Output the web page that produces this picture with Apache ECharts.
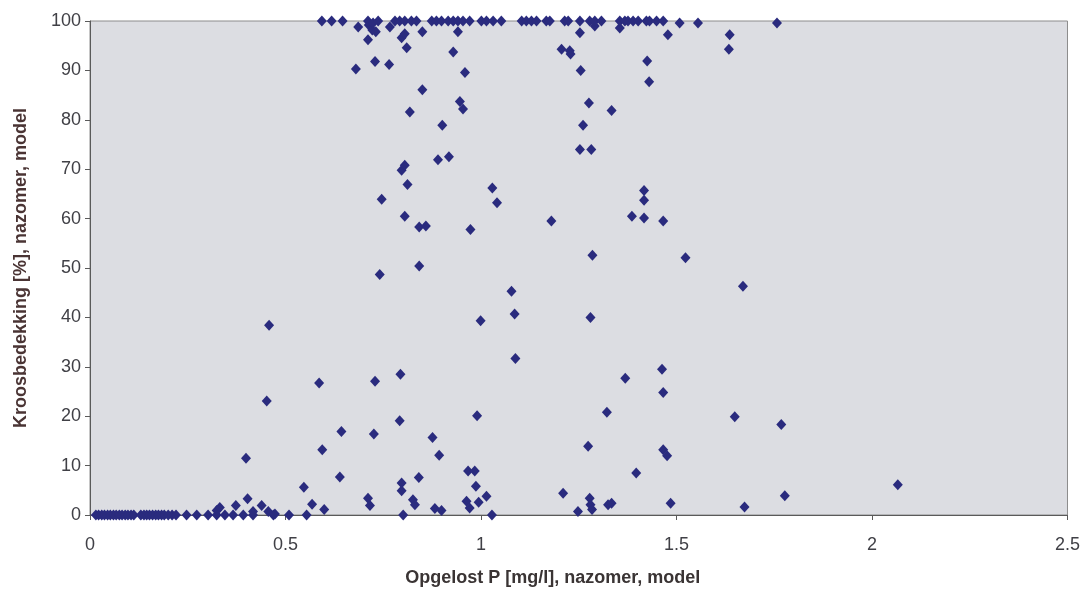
<!DOCTYPE html>
<html>
<head>
<meta charset="utf-8">
<script src="https://cdn.jsdelivr.net/npm/echarts@6/dist/echarts.min.js"></script>
<style>
  html, body { margin: 0; padding: 0; background: #ffffff; }
  #chart { width: 1083px; height: 592px; }
</style>
</head>
<body>
<div id="chart"></div>
<script>
// Opgelost P (mg/l) vs. kroosbedekking (%), nazomer, model runs

// Near-zero coverage, low P
const lowX = [0.015, 0.022, 0.03, 0.037, 0.045, 0.052, 0.06, 0.067, 0.075, 0.082, 0.09, 0.097, 0.105, 0.112,
  0.13, 0.138, 0.145, 0.152, 0.16, 0.168, 0.175, 0.183, 0.19, 0.2, 0.21, 0.22,
  0.247, 0.273, 0.302, 0.324, 0.345, 0.366, 0.392, 0.417, 0.469, 0.509, 0.554, 0.801, 1.028,
  0.324, 0.332, 0.373, 0.403, 0.439, 0.417, 0.456, 0.473, 0.399, 0.452, 0.458];
const lowY = [0, 0, 0, 0, 0, 0, 0, 0, 0, 0, 0, 0, 0, 0,
  0, 0, 0, 0, 0, 0, 0, 0, 0, 0, 0, 0,
  0, 0, 0, 0, 0, 0, 0, 0, 0, 0, 0, 0, 0,
  0.9, 1.5, 1.9, 3.3, 1.9, 0.7, 0.7, 0.2, 11.5, 23.1, 38.4];

// Scattered coverage, mid P
const midX = [0.547, 0.568, 0.599, 0.594, 0.586, 0.643, 0.639,
  0.711, 0.716, 0.726, 0.729, 0.741, 0.746,
  0.792, 0.794, 0.797, 0.797, 0.812, 0.805, 0.826, 0.831, 0.841, 0.842, 0.859, 0.842,
  0.876, 0.893, 0.882, 0.899,
  0.963, 0.971, 0.967, 0.984, 0.987, 0.994, 0.990, 0.999, 0.973, 1.014,
  1.029, 1.041, 1.078, 1.086, 1.088,
  1.180, 1.210, 1.248, 1.278, 1.280, 1.284, 1.274, 1.280, 1.285,
  1.322, 1.325, 1.334, 1.369, 1.397, 1.386, 1.417, 1.417, 1.417, 1.466,
  1.463, 1.466, 1.466, 1.476, 1.485, 1.523,
  1.649, 1.670, 1.674, 1.768, 1.777, 2.066];
const midY = [5.6, 2.2, 1.1, 13.2, 26.7, 16.9, 7.7,
  3.4, 1.9, 16.4, 27.1, 48.7, 63.9,
  19.1, 28.5, 6.5, 4.9, 66.9, 60.5, 3.1, 2.1, 7.6, 58.3, 58.5, 50.4,
  15.7, 12.1, 1.3, 0.9,
  2.8, 1.4, 8.9, 8.9, 5.8, 2.6, 20.1, 39.3, 57.8, 3.8,
  66.2, 63.2, 45.3, 40.7, 31.7,
  59.5, 4.4, 0.7, 3.4, 2.1, 1.1, 13.9, 40.0, 52.6,
  20.8, 2.1, 2.4, 27.7, 8.5, 60.5, 60.1, 65.7, 63.7, 59.5,
  29.5, 24.8, 13.2, 12.0, 2.4, 52.1,
  19.9, 46.3, 1.6, 18.3, 3.9, 6.1];

// High coverage below the 100 % row
const highX = [0.680, 0.711, 0.729, 0.765, 0.797, 0.805, 0.810, 0.850, 0.850, 0.818, 0.901, 0.890, 0.918,
  0.797, 0.805, 0.929, 0.941, 0.959, 0.946, 0.954,
  1.206, 1.227, 1.229, 1.253, 1.255, 1.276, 1.261, 1.253, 1.282, 1.334, 1.425, 1.430, 1.478, 1.636, 1.634,
  0.713, 0.722, 0.731, 1.291, 1.355];
const highY = [90.3, 96.2, 91.8, 91.2, 96.6, 97.4, 94.6, 97.8, 86.1, 81.6, 78.9, 71.9, 72.5,
  69.8, 70.8, 93.7, 97.8, 89.6, 83.7, 82.2,
  94.3, 94.0, 93.3, 97.6, 90.0, 83.4, 78.9, 74.0, 74.0, 81.9, 91.9, 87.7, 97.2, 97.2, 94.3,
  99.2, 98.2, 97.8, 99.0, 98.6];

// Full coverage row
const topX = [0.593, 0.618, 0.646, 0.686, 0.711, 0.724, 0.737, 0.767, 0.780, 0.792, 0.805, 0.822, 0.835,
  0.874, 0.886, 0.899, 0.916, 0.929, 0.941, 0.954, 0.971, 1.001, 1.014, 1.031, 1.052,
  1.104, 1.116, 1.129, 1.142, 1.167, 1.176, 1.214, 1.223, 1.253, 1.278, 1.291, 1.308,
  1.355, 1.368, 1.376, 1.389, 1.402, 1.423, 1.431, 1.449, 1.466, 1.508, 1.555, 1.757];
const topY = [100, 100, 100, 98.8, 100, 99.6, 100, 98.8, 100, 100, 100, 100, 100,
  100, 100, 100, 100, 100, 100, 100, 100, 100, 100, 100, 100,
  100, 100, 100, 100, 100, 100, 100, 100, 100, 100, 100, 100,
  100, 100, 100, 100, 100, 100, 100, 100, 100, 99.6, 99.6, 99.6];

const xTickLabels = ['0', '0.5', '1', '1.5', '2', '2.5'];
const yTickLabels = ['0', '10', '20', '30', '40', '50', '60', '70', '80', '90', '100'];

const xTitle = 'Opgelost P [mg/l], nazomer, model';
const yTitle = 'Kroosbedekking [%], nazomer, model';

function pairs(xs, ys) {
  return xs.map((x, i) => [x, ys[i]]);
}
const points = [].concat(
  pairs(lowX, lowY),
  pairs(midX, midY),
  pairs(highX, highY),
  pairs(topX, topY)
);

const labelColor = '#404046';
const chart = echarts.init(document.getElementById('chart'), null, { renderer: 'canvas' });
chart.setOption({
  animation: false,
  backgroundColor: '#ffffff',
  textStyle: { fontFamily: 'Liberation Sans, Arial, sans-serif' },
  grid: {
    left: 90, right: 15, top: 21, bottom: 76,
    show: true,
    backgroundColor: '#dcdde2',
    borderColor: '#8c8c8c',
    borderWidth: 1
  },
  xAxis: {
    type: 'value',
    min: 0, max: 2.5, interval: 0.5,
    name: xTitle,
    nameLocation: 'middle',
    nameGap: 54,
    nameTextStyle: { fontSize: 18, fontWeight: 'bold', color: '#3a3434', padding: [0, 52, 0, 0] },
    axisLine: { show: true, onZero: false, lineStyle: { color: '#5a5a5a', width: 1 } },
    axisTick: { show: true, inside: false, length: 5, lineStyle: { color: '#5a5a5a' } },
    axisLabel: {
      fontSize: 18, color: labelColor, margin: 21,
      formatter: (v) => xTickLabels[Math.round(v / 0.5)]
    },
    splitLine: { show: false }
  },
  yAxis: {
    type: 'value',
    min: 0, max: 100, interval: 10,
    name: yTitle,
    nameLocation: 'middle',
    nameGap: 60,
    nameTextStyle: { fontSize: 18, fontWeight: 'bold', color: '#4a3434' },
    axisLine: { show: true, onZero: false, lineStyle: { color: '#5a5a5a', width: 1 } },
    axisTick: { show: true, inside: false, length: 5, lineStyle: { color: '#5a5a5a' } },
    axisLabel: {
      fontSize: 18, color: labelColor, margin: 9,
      formatter: (v) => yTickLabels[Math.round(v / 10)]
    },
    splitLine: { show: false }
  },
  series: [{
    type: 'scatter',
    data: points,
    symbol: 'diamond',
    symbolSize: [10, 11],
    itemStyle: { color: '#2a2b7e', opacity: 1 },
    clip: false
  }]
});
</script>
</body>
</html>
